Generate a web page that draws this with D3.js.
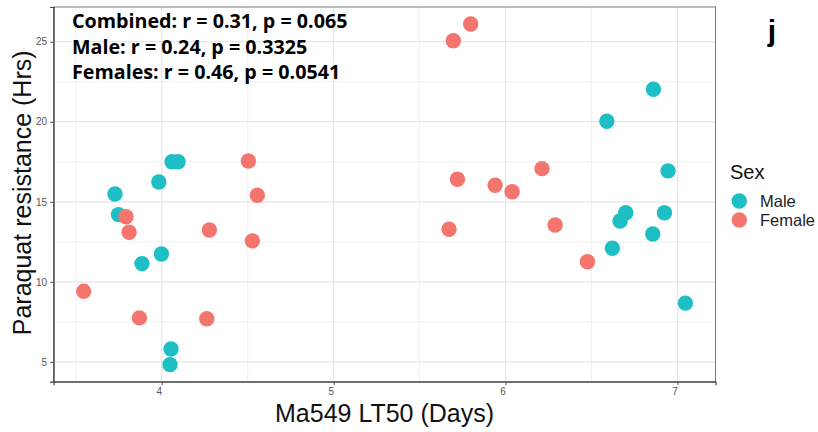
<!DOCTYPE html>
<html>
<head>
<meta charset="utf-8">
<script src="https://cdn.jsdelivr.net/npm/d3@7"></script>
<style>
  html, body { margin: 0; padding: 0; background: #ffffff; }
  svg { display: block; }
</style>
</head>
<body>
<script>
// ---- Data ----
const maleLT50 = [4.06, 4.095, 3.983, 3.728, 3.748, 3.998, 3.885, 4.054, 4.048,
                  6.86, 6.589, 6.945, 6.699, 6.666, 6.924, 6.856, 6.621, 7.046];
const maleParaquat = [17.5, 17.5, 16.24, 15.49, 14.2, 11.74, 11.14, 5.81, 4.83,
                      22.03, 20.03, 16.93, 14.32, 13.8, 14.32, 12.99, 12.1, 8.67];
const femaleLT50 = [4.504, 4.556, 3.792, 3.81, 4.277, 4.527, 3.546, 3.87, 4.262,
                    5.797, 5.696, 5.72, 5.939, 6.038, 6.212, 5.671, 6.288, 6.476];
const femaleParaquat = [17.55, 15.41, 14.07, 13.1, 13.24, 12.56, 9.41, 7.75, 7.70,
                        26.1, 25.06, 16.41, 16.03, 15.63, 17.07, 13.29, 13.55, 11.26];

const xTicks = [4, 5, 6, 7];
const yTicks = [5, 10, 15, 20, 25];
const xMinor = [3.5, 4.5, 5.5, 6.5];
const yMinor = [7.5, 12.5, 17.5, 22.5];

const sexLabels = ["Male", "Female"];
const sexColors = ["#1dbec4", "#f4756d"];
const statLines = [
  "Combined: r = 0.31, p = 0.065",
  "Male: r = 0.24, p = 0.3325",
  "Females: r = 0.46, p = 0.0541"
];
const panelTag = "j";
const xTitle = "Ma549 LT50 (Days)";
const yTitle = "Paraquat resistance (Hrs)";
const legendTitle = "Sex";

// ---- Layout ----
const W = 818, H = 432;
const panel = { left: 53.6, right: 715.5, top: 7, bottom: 381.7 };

const svg = d3.select("body").append("svg")
  .attr("width", W).attr("height", H)
  .style("font-family", "'Liberation Sans', Arial, sans-serif");

svg.append("rect").attr("width", W).attr("height", H).attr("fill", "#ffffff");

// points table
const points = [];
maleLT50.forEach((x, i) => points.push({ x, y: maleParaquat[i], sex: "Male" }));
femaleLT50.forEach((x, i) => points.push({ x, y: femaleParaquat[i], sex: "Female" }));

// ggplot-like 5% expansion
function expand(ext) { const d = (ext[1] - ext[0]) * 0.05; return [ext[0] - d, ext[1] + d]; }
const xDom = expand(d3.extent(points, d => d.x));
const yDom = expand(d3.extent(points, d => d.y));

const x = d3.scaleLinear().domain(xDom).range([panel.left, panel.right]);
const y = d3.scaleLinear().domain(yDom).range([panel.bottom, panel.top]);
const color = d3.scaleOrdinal().domain(sexLabels).range(sexColors);

// panel background
svg.append("rect")
  .attr("x", panel.left).attr("y", panel.top)
  .attr("width", panel.right - panel.left).attr("height", panel.bottom - panel.top)
  .attr("fill", "#ffffff");

const grid = svg.append("g");
// minor grid
grid.selectAll(".vminor").data(xMinor).enter().append("line")
  .attr("x1", d => x(d)).attr("x2", d => x(d))
  .attr("y1", panel.top).attr("y2", panel.bottom)
  .attr("stroke", "#f0f0f0").attr("stroke-width", 1);
grid.selectAll(".hminor").data(yMinor).enter().append("line")
  .attr("y1", d => y(d)).attr("y2", d => y(d))
  .attr("x1", panel.left).attr("x2", panel.right)
  .attr("stroke", "#f0f0f0").attr("stroke-width", 1);
// major grid
grid.selectAll(".vmajor").data(xTicks).enter().append("line")
  .attr("x1", d => x(d)).attr("x2", d => x(d))
  .attr("y1", panel.top).attr("y2", panel.bottom)
  .attr("stroke", "#e6e6e6").attr("stroke-width", 1.2);
grid.selectAll(".hmajor").data(yTicks).enter().append("line")
  .attr("y1", d => y(d)).attr("y2", d => y(d))
  .attr("x1", panel.left).attr("x2", panel.right)
  .attr("stroke", "#e6e6e6").attr("stroke-width", 1.2);

// points
svg.append("g").selectAll("circle").data(points).enter().append("circle")
  .attr("cx", d => x(d.x)).attr("cy", d => y(d.y))
  .attr("r", 7.7)
  .attr("fill", d => color(d.sex));

// panel border
svg.append("rect")
  .attr("x", panel.left).attr("y", panel.top)
  .attr("width", panel.right - panel.left).attr("height", panel.bottom - panel.top)
  .attr("fill", "none").attr("stroke", "#7a7a7a").attr("stroke-width", 1);

// axes
const xAxis = d3.axisBottom(x).tickValues(xTicks).tickSize(3.5).tickPadding(3).tickFormat(d3.format("d"));
const yAxis = d3.axisLeft(y).tickValues(yTicks).tickSize(3.5).tickPadding(3).tickFormat(d3.format("d"));

const gx = svg.append("g").attr("transform", `translate(0,${panel.bottom})`).call(xAxis);
const gy = svg.append("g").attr("transform", `translate(${panel.left},0)`).call(yAxis);
[gx, gy].forEach(g => {
  g.select(".domain").attr("stroke", "#444").attr("stroke-width", 1.2);
  g.selectAll(".tick line").attr("stroke", "#555");
  g.selectAll(".tick text").attr("fill", "#555").style("font-size", "10px")
    .style("font-family", "'Liberation Sans', Arial, sans-serif");
});
gx.selectAll(".tick text").attr("dx", -3);

// axis titles
svg.append("text")
  .attr("x", (panel.left + panel.right) / 2).attr("y", 421.5)
  .attr("text-anchor", "middle").style("font-size", "25px").attr("fill", "#111")
  .text(xTitle);
svg.append("text")
  .attr("transform", `translate(31,${(panel.top + panel.bottom) / 2 - 1.5}) rotate(-90)`)
  .attr("text-anchor", "middle").style("font-size", "25px").attr("fill", "#111")
  .text(yTitle);

// stats annotation
svg.append("g").selectAll("text").data(statLines).enter().append("text")
  .attr("x", 72).attr("y", (d, i) => 28 + i * 25.7)
  .style("font-family", "'Open Sans', Lato, sans-serif")
  .style("font-weight", "700").style("font-size", "19.7px").attr("fill", "#000")
  .text(d => d);

// panel tag
svg.append("text").attr("x", 772).attr("y", 40.5)
  .attr("text-anchor", "middle")
  .style("font-weight", "700").style("font-size", "30px").attr("fill", "#000")
  .text(panelTag);

// legend
const lg = svg.append("g");
lg.append("text").attr("x", 730).attr("y", 178.5)
  .style("font-size", "20px").attr("fill", "#111").text(legendTitle);
const items = lg.selectAll(".item").data(sexLabels).enter().append("g")
  .attr("transform", (d, i) => `translate(0,${201 + i * 19})`);
items.append("circle").attr("cx", 739.3).attr("cy", 0).attr("r", 7.7)
  .attr("fill", d => color(d));
items.append("text").attr("x", 760).attr("y", 6)
  .style("font-size", "16.5px").attr("fill", "#222").text(d => d);
</script>
</body>
</html>
